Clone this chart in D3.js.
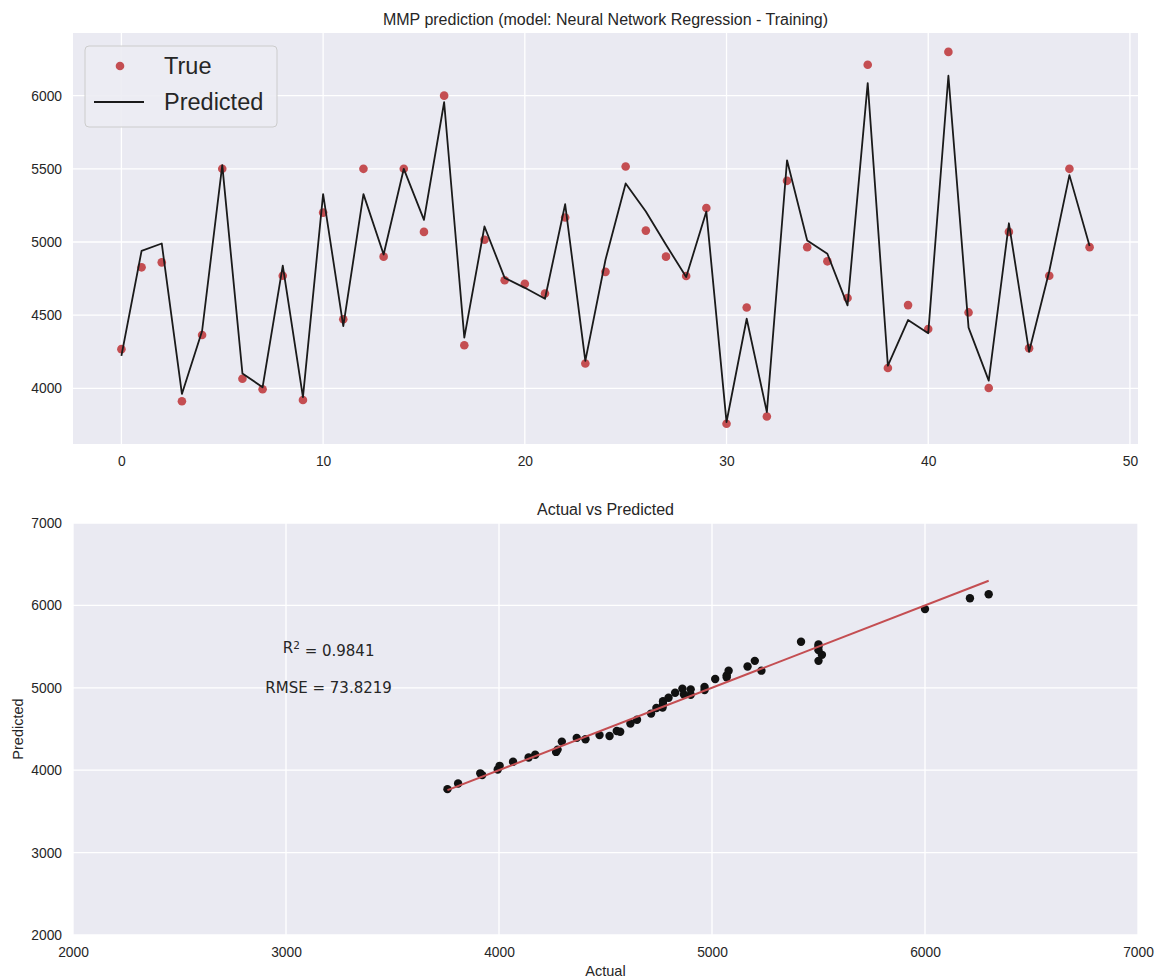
<!DOCTYPE html>
<html>
<head>
<meta charset="utf-8">
<script src="https://cdn.jsdelivr.net/npm/d3@7"></script>
<style>
  body { margin: 0; background: #fff; }
  svg text { font-family: "Liberation Sans", Arial, sans-serif; fill: #262626; }
</style>
</head>
<body>
<div id="chart"></div>
<script>
// sample index 0..48
var trueVals = [4268, 4827, 4861, 3912, 4365, 5500, 4066, 3994, 4770, 3921,
                5201, 4472, 5500, 4900, 5500, 5069, 6000, 4295, 5015, 4739,
                4714, 4648, 5167, 4170, 4796, 5516, 5078, 4900, 4768, 5232,
                3758, 4553, 3808, 5418, 4965, 4868, 4617, 6211, 4139, 4569,
                4406, 6299, 4519, 4003, 5069, 4275, 4770, 5500, 4965];
var predVals = [4222, 4940, 4990, 3962, 4392, 5525, 4102, 4008, 4838, 3940,
                5327, 4426, 5327, 4915, 5500, 5151, 5955, 4347, 5106, 4755,
                4687, 4612, 5258, 4188, 4879, 5400, 5208, 4981, 4761, 5208,
                3770, 4476, 3838, 5558, 5010, 4920, 4567, 6086, 4155, 4467,
                4376, 6136, 4415, 4053, 5128, 4250, 4800, 5457, 4972];
var topXTicks = [0, 10, 20, 30, 40, 50],
    topYTicks = [4000, 4500, 5000, 5500, 6000];
var botTicks = [2000, 3000, 4000, 5000, 6000, 7000];
var r2Text = "0.9841", rmseText = "73.8219";

(function(){
var width = 1158, height = 978;
var bg = "#eaeaf2", red = "#c44e52";

function translate(x, y){ return "translate(" + x + "," + y + ")"; }

function styleAxis(a){
    a.select(".domain").remove();
    a.selectAll("text").attr("font-size", 13.8).attr("fill", "#262626")
        .attr("font-family", "'Liberation Sans', Arial, sans-serif");
}

var svg = d3.select("#chart").append("svg")
    .attr("width", width)
    .attr("height", height);

/////////////////////////// top: series ///////////////////////////
var box1 = { left: 73, right: 1138, top: 33, bottom: 444 };
var idx = d3.range(trueVals.length);

var x1 = d3.scaleLinear().domain([-2.4, 50.4]).range([box1.left, box1.right]);
var y1 = d3.scaleLinear().domain([3620, 6428]).range([box1.bottom, box1.top]);

var g1 = svg.append("g");
g1.append("rect")
    .attr("x", box1.left).attr("y", box1.top)
    .attr("width", box1.right - box1.left).attr("height", box1.bottom - box1.top)
    .attr("fill", bg);

// grid
g1.selectAll(".gx").data(topXTicks).enter().append("line")
    .attr("x1", x1).attr("x2", x1)
    .attr("y1", box1.top).attr("y2", box1.bottom)
    .attr("stroke", "#fff").attr("stroke-width", 1.3);
g1.selectAll(".gy").data(topYTicks).enter().append("line")
    .attr("x1", box1.left).attr("x2", box1.right)
    .attr("y1", y1).attr("y2", y1)
    .attr("stroke", "#fff").attr("stroke-width", 1.3);

g1.append("g").attr("transform", translate(0, box1.bottom))
    .call(d3.axisBottom(x1).tickValues(topXTicks).tickSize(0).tickPadding(12))
    .call(styleAxis);
g1.append("g").attr("transform", translate(box1.left, 0))
    .call(d3.axisLeft(y1).tickValues(topYTicks).tickSize(0).tickPadding(11).tickFormat(d3.format("d")))
    .call(styleAxis);

g1.selectAll(".dot").data(idx).enter().append("circle")
    .attr("cx", function(i){ return x1(i); })
    .attr("cy", function(i){ return y1(trueVals[i]); })
    .attr("r", 4.3)
    .attr("fill", red);

g1.append("path")
    .datum(idx)
    .attr("fill", "none")
    .attr("stroke", "#1a1a1a")
    .attr("stroke-width", 1.8)
    .attr("stroke-linejoin", "round")
    .attr("d", d3.line().x(function(i){ return x1(i); }).y(function(i){ return y1(predVals[i]); }));

svg.append("text")
    .attr("x", (box1.left + box1.right) / 2).attr("y", 19)
    .attr("text-anchor", "middle").attr("dy", "0.35em")
    .attr("font-size", 16)
    .text("MMP prediction (model: Neural Network Regression - Training)");

// legend
var lg = svg.append("g").attr("transform", translate(85, 46));
lg.append("rect")
    .attr("width", 192).attr("height", 81).attr("rx", 4)
    .attr("fill", "#ececf3").attr("fill-opacity", 0.9)
    .attr("stroke", "#cccccc").attr("stroke-width", 1);
lg.append("circle").attr("cx", 35).attr("cy", 20).attr("r", 4.3).attr("fill", red);
lg.append("text").attr("x", 79).attr("y", 20).attr("dy", "0.36em")
    .attr("font-size", 23.5).text("True");
lg.append("line").attr("x1", 9).attr("x2", 59).attr("y1", 56).attr("y2", 56)
    .attr("stroke", "#1a1a1a").attr("stroke-width", 1.8);
lg.append("text").attr("x", 79).attr("y", 56).attr("dy", "0.36em")
    .attr("font-size", 23.5).text("Predicted");

/////////////////////////// bottom: actual vs predicted ///////////////////////////
var box2 = { left: 73, right: 1138, top: 523, bottom: 935 };
var x2 = d3.scaleLinear().domain([2000, 7000]).range([box2.left, box2.right]);
var y2 = d3.scaleLinear().domain([2000, 7000]).range([box2.bottom, box2.top]);

var g2 = svg.append("g");
g2.append("rect")
    .attr("x", box2.left).attr("y", box2.top)
    .attr("width", box2.right - box2.left).attr("height", box2.bottom - box2.top)
    .attr("fill", bg);
g2.selectAll(".gx").data(botTicks).enter().append("line")
    .attr("x1", x2).attr("x2", x2)
    .attr("y1", box2.top).attr("y2", box2.bottom)
    .attr("stroke", "#fff").attr("stroke-width", 1.3);
g2.selectAll(".gy").data(botTicks).enter().append("line")
    .attr("x1", box2.left).attr("x2", box2.right)
    .attr("y1", y2).attr("y2", y2)
    .attr("stroke", "#fff").attr("stroke-width", 1.3);

g2.append("g").attr("transform", translate(0, box2.bottom))
    .call(d3.axisBottom(x2).tickValues(botTicks).tickSize(0).tickPadding(12).tickFormat(d3.format("d")))
    .call(styleAxis);
g2.append("g").attr("transform", translate(box2.left, 0))
    .call(d3.axisLeft(y2).tickValues(botTicks).tickSize(0).tickPadding(11).tickFormat(d3.format("d")))
    .call(styleAxis);

g2.selectAll(".pt").data(idx).enter().append("circle")
    .attr("cx", function(i){ return x2(trueVals[i]); })
    .attr("cy", function(i){ return y2(predVals[i]); })
    .attr("r", 4.2)
    .attr("fill", "#111");

var lo = d3.min(trueVals), hi = d3.max(trueVals);
g2.append("line")
    .attr("x1", x2(lo)).attr("y1", y2(lo))
    .attr("x2", x2(hi)).attr("y2", y2(hi))
    .attr("stroke", red).attr("stroke-width", 2);

var ann = g2.append("g").attr("font-size", 15);
var t1 = ann.append("text")
    .attr("x", x2(3200)).attr("y", y2(5480)).attr("dy", "0.35em")
    .attr("text-anchor", "middle")
    .style("font-family", "'DejaVu Sans', sans-serif");
t1.append("tspan").text("R");
t1.append("tspan").attr("dy", "-0.45em").attr("font-size", 10.5).text("2");
t1.append("tspan").attr("dy", "0.45em").text(" = " + r2Text);
ann.append("text")
    .attr("x", x2(3200)).attr("y", y2(5005)).attr("dy", "0.35em")
    .attr("text-anchor", "middle")
    .style("font-family", "'DejaVu Sans', sans-serif")
    .text("RMSE = " + rmseText);

svg.append("text")
    .attr("x", (box2.left + box2.right) / 2).attr("y", 509)
    .attr("text-anchor", "middle").attr("dy", "0.35em")
    .attr("font-size", 16)
    .text("Actual vs Predicted");
svg.append("text")
    .attr("x", (box2.left + box2.right) / 2).attr("y", 971)
    .attr("text-anchor", "middle").attr("dy", "0.35em")
    .attr("font-size", 14.5)
    .text("Actual");
svg.append("text")
    .attr("transform", translate(18, (box2.top + box2.bottom) / 2) + " rotate(-90)")
    .attr("text-anchor", "middle").attr("dy", "0.35em")
    .attr("font-size", 14.5)
    .text("Predicted");
})();
</script>
</body>
</html>
